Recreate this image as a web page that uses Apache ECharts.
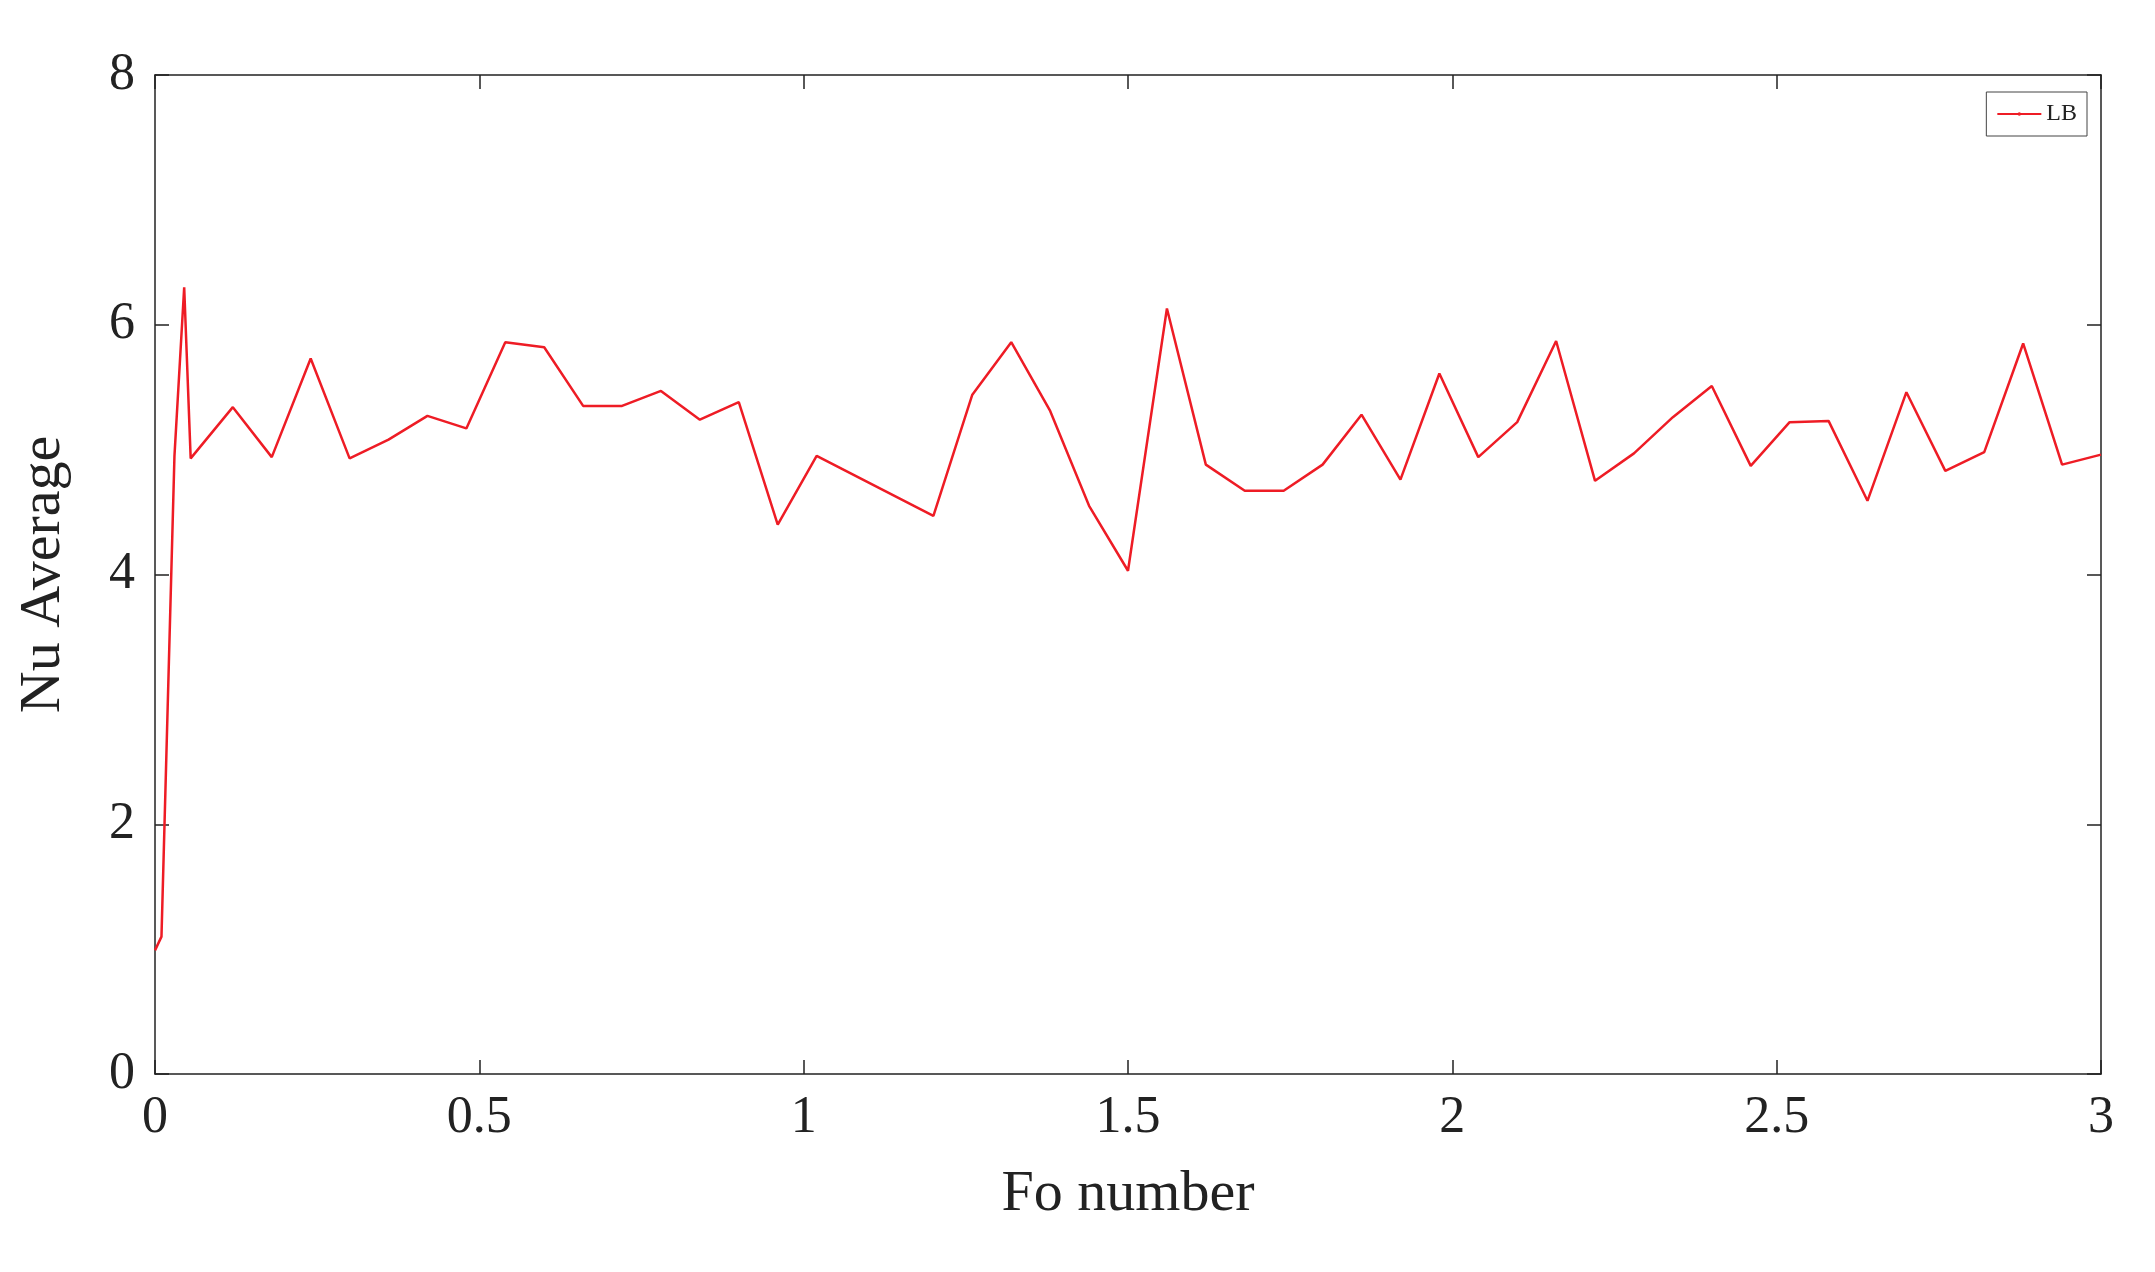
<!DOCTYPE html>
<html>
<head>
<meta charset="utf-8">
<style>html,body{margin:0;background:#fff;}</style>
</head>
<body>
<div id="chart" style="width:2155px;height:1272px;"></div>
<script src="https://cdn.jsdelivr.net/npm/echarts@6/dist/echarts.min.js"></script>
<script>
// Fo 数值
var foValues = [0, 0.01, 0.03, 0.045, 0.055, 0.12, 0.18, 0.24, 0.30, 0.36, 0.42, 0.48, 0.54, 0.60, 0.66, 0.72, 0.78, 0.84, 0.90, 0.96, 1.02, 1.20, 1.26, 1.32, 1.38, 1.44, 1.50, 1.56, 1.62, 1.68, 1.74, 1.80, 1.86, 1.92, 1.98, 2.04, 2.10, 2.16, 2.22, 2.28, 2.34, 2.40, 2.46, 2.52, 2.58, 2.64, 2.70, 2.76, 2.82, 2.88, 2.94, 3.00];
// Nu 平均值
var nuValues = [0.99, 1.1, 4.95, 6.3, 4.93, 5.34, 4.94, 5.73, 4.93, 5.08, 5.27, 5.17, 5.86, 5.82, 5.35, 5.35, 5.47, 5.24, 5.38, 4.40, 4.95, 4.47, 5.44, 5.86, 5.31, 4.55, 4.03, 6.13, 4.88, 4.67, 4.67, 4.88, 5.28, 4.76, 5.61, 4.94, 5.22, 5.87, 4.75, 4.97, 5.26, 5.51, 4.87, 5.22, 5.23, 4.59, 5.46, 4.83, 4.98, 5.85, 4.88, 4.96];

var pts = foValues.map(function (x, i) { return [x, nuValues[i]]; });
var font = 'Liberation Serif';
var axisLine = { show: true, onZero: false, lineStyle: { color: '#222', width: 1.5 } };
var tick = { show: true, inside: true, length: 14, lineStyle: { color: '#222', width: 1.5 } };

var chart = echarts.init(document.getElementById('chart'));
chart.setOption({
    animation: false,
    backgroundColor: '#fff',
    grid: { left: 155, right: 54, top: 75, bottom: 198 },
    legend: {
        data: ['LB'], right: 68, top: 92, orient: 'vertical',
        itemWidth: 44, itemHeight: 2,
        borderColor: '#444', borderWidth: 1, padding: [10, 10, 10, 10],
        textStyle: { fontFamily: font, fontSize: 24, color: '#222' }
    },
    xAxis: [{
        type: 'value', min: 0, max: 3, interval: 0.5,
        name: 'Fo number', nameLocation: 'middle', nameGap: 92,
        nameTextStyle: { fontFamily: font, fontSize: 58, color: '#222' },
        axisLine: axisLine, axisTick: tick, splitLine: { show: false },
        axisLabel: { fontFamily: font, fontSize: 52, color: '#222', margin: 18 }
    }, {
        type: 'value', min: 0, max: 3, interval: 0.5, position: 'top',
        axisLine: axisLine, axisTick: tick, axisLabel: { show: false }, splitLine: { show: false }
    }],
    yAxis: [{
        type: 'value', min: 0, max: 8, interval: 2,
        name: 'Nu Average', nameLocation: 'middle', nameGap: 82,
        nameTextStyle: { fontFamily: font, fontSize: 58, color: '#222' },
        axisLine: axisLine, axisTick: tick, splitLine: { show: false },
        axisLabel: { fontFamily: font, fontSize: 52, color: '#222', margin: 20 }
    }, {
        type: 'value', min: 0, max: 8, interval: 2, position: 'right',
        axisLine: axisLine, axisTick: tick, axisLabel: { show: false }, splitLine: { show: false }
    }],
    series: [{
        name: 'LB', type: 'line', data: pts, showSymbol: false,
        lineStyle: { color: '#ee1c25', width: 2.5 }, itemStyle: { color: '#ee1c25' }
    }]
});
</script>
</body>
</html>
